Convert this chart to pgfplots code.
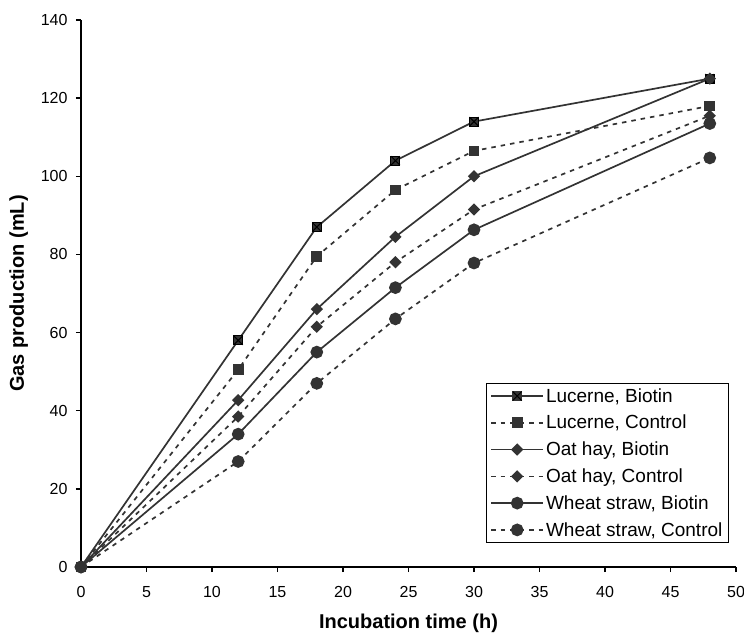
\documentclass[border=0pt]{standalone}
\usepackage{fontspec}
\setmainfont{Liberation Sans}
\usepackage{pgfplots}
\pgfplotsset{compat=1.18}

\definecolor{dk}{RGB}{51,51,51}

% filled square with a black cross on top
\pgfdeclareplotmark{sqx}{%
  \pgfpathrectangle{\pgfpoint{-\pgfplotmarksize}{-\pgfplotmarksize}}{\pgfpoint{2\pgfplotmarksize}{2\pgfplotmarksize}}%
  \pgfusepathqfillstroke
  \pgfsetstrokecolor{black}%
  \pgfpathmoveto{\pgfpoint{-\pgfplotmarksize}{-\pgfplotmarksize}}\pgfpathlineto{\pgfpoint{\pgfplotmarksize}{\pgfplotmarksize}}%
  \pgfpathmoveto{\pgfpoint{-\pgfplotmarksize}{\pgfplotmarksize}}\pgfpathlineto{\pgfpoint{\pgfplotmarksize}{-\pgfplotmarksize}}%
  \pgfusepathqstroke}

\pgfplotsset{
  solidline/.style={dk, line width=1.7pt, solid},
  dashline/.style={dk, line width=1.7pt, dash pattern=on 4.5pt off 5pt},
}

\begin{document}
\begin{tikzpicture}
\useasboundingbox (-81pt,-65pt) rectangle (663pt,567pt);
\begin{axis}[
    scale only axis,
    width=655pt, height=547pt,
    xmin=0, xmax=50,
    ymin=0, ymax=140,
    axis lines*=left,
    axis line style={black, line width=1.4pt},
    xtick={0,5,...,50},
    ytick={0,20,...,140},
    tick align=outside,
    major tick length=5pt,
    tick style={black, line width=1.4pt},
    /pgf/number format/assume math mode=true,
    ticklabel style={font=\fontsize{16}{18}\selectfont},
    xticklabel style={yshift=-11pt},
    yticklabel style={xshift=-5pt},
    xlabel={\textbf{Incubation time (h)}},
    ylabel={\textbf{Gas production (mL)}},
    label style={font=\fontsize{20}{24}\selectfont},
    xlabel style={at={(axis description cs:0.5,-0.1025)}, anchor=center},
    ylabel style={at={(axis description cs:-0.095,0.5)}, anchor=center},
    legend cell align=left,
    legend style={
        at={(axis description cs:0.989,0.044)}, anchor=south east,
        draw=black, line width=0.8pt, fill=white,
        font=\fontsize{19}{23}\selectfont,
        row sep=7.5pt, inner xsep=4pt, inner ysep=3pt,
    },
    legend image code/.code={%
        \draw[mark repeat=2,mark phase=2,#1] plot coordinates {(0pt,0pt)(26pt,0pt)(52pt,0pt)};},
]
% Lucerne, Biotin
\addplot[solidline, mark=sqx, mark size=4.5pt, mark options={solid, fill=dk, line width=1pt}]
coordinates{(0,0)(12,58)(18,87)(24,104)(30,114)(48,125)};
% Lucerne, Control
\addplot[dashline, mark=square*, mark size=4.5pt, mark options={solid, fill=dk}]
coordinates{(0,0)(12,50.5)(18,79.5)(24,96.5)(30,106.5)(48,118)};
% Oat hay, Biotin
\addplot[solidline, mark=square*, mark size=3.5pt, mark options={solid, fill=dk, rotate=45}]
coordinates{(0,0)(12,42.7)(18,66)(24,84.5)(30,100)(48,125)};
% Oat hay, Control
\addplot[dashline, mark=square*, mark size=3.5pt, mark options={solid, fill=dk, rotate=45}]
coordinates{(0,0)(12,38.5)(18,61.5)(24,78)(30,91.5)(48,115.5)};
% Wheat straw, Biotin
\addplot[solidline, mark=*, mark size=5.5pt, mark options={solid, fill=dk}]
coordinates{(0,0)(12,34)(18,55)(24,71.5)(30,86.3)(48,113.5)};
% Wheat straw, Control
\addplot[dashline, mark=*, mark size=5.5pt, mark options={solid, fill=dk}]
coordinates{(0,0)(12,27)(18,47)(24,63.5)(30,77.8)(48,104.7)};
\legend{Lucerne{,} Biotin, Lucerne{,} Control, Oat hay{,} Biotin, Oat hay{,} Control, Wheat straw{,} Biotin, Wheat straw{,} Control}
\end{axis}
\end{tikzpicture}
\end{document}
